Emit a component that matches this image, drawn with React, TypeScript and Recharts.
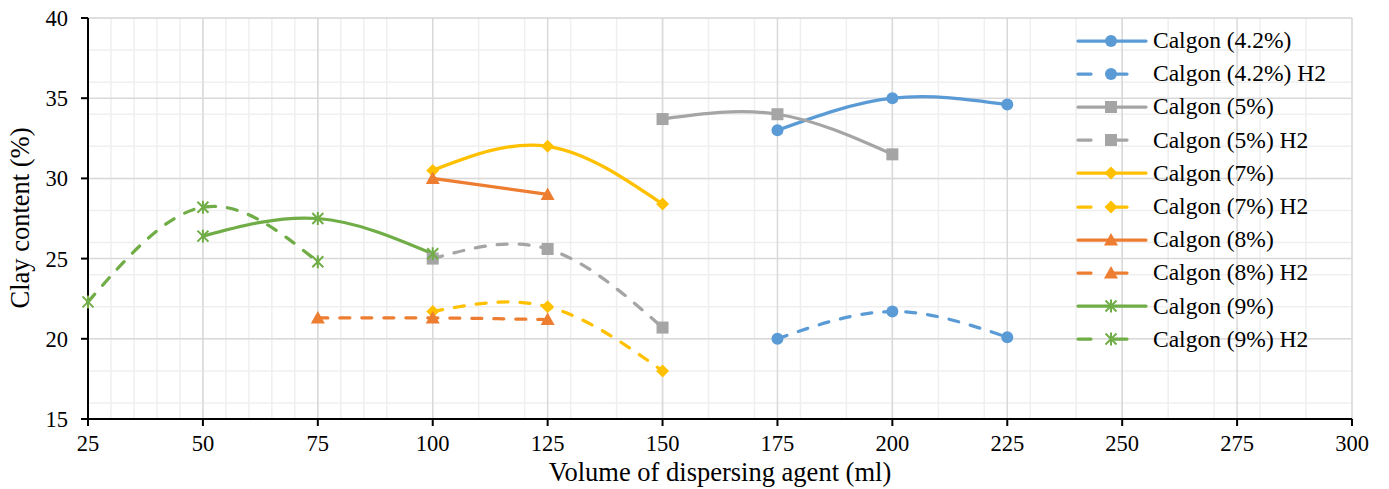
import React from "react";
import { CartesianGrid, Line, LineChart, XAxis, YAxis } from "recharts";

const xTicks = [25, 50, 75, 100, 125, 150, 175, 200, 225, 250, 275, 300];
const yTicks = [15, 20, 25, 30, 35, 40];

const calgon42 = [{ x: 175, y: 33 }, { x: 200, y: 35 }, { x: 225, y: 34.6 }];
const calgon42H2 = [{ x: 175, y: 20 }, { x: 200, y: 21.7 }, { x: 225, y: 20.1 }];
const calgon5 = [{ x: 150, y: 33.7 }, { x: 175, y: 34 }, { x: 200, y: 31.5 }];
const calgon5H2 = [{ x: 100, y: 25 }, { x: 125, y: 25.6 }, { x: 150, y: 20.7 }];
const calgon7 = [{ x: 100, y: 30.5 }, { x: 125, y: 32 }, { x: 150, y: 28.4 }];
const calgon7H2 = [{ x: 100, y: 21.7 }, { x: 125, y: 22 }, { x: 150, y: 18 }];
const calgon8 = [{ x: 100, y: 30 }, { x: 125, y: 29 }];
const calgon8H2 = [{ x: 75, y: 21.3 }, { x: 100, y: 21.3 }, { x: 125, y: 21.2 }];
const calgon9 = [{ x: 50, y: 26.4 }, { x: 75, y: 27.5 }, { x: 100, y: 25.3 }];
const calgon9H2 = [{ x: 25, y: 22.3 }, { x: 50, y: 28.2 }, { x: 75, y: 24.8 }];

type Marker = "circle" | "square" | "diamond" | "triangle" | "asterisk";

const series: { name: string; data: { x: number; y: number }[]; color: string; dashed: boolean; marker: Marker }[] = [
  { name: "Calgon (4.2%)", data: calgon42, color: "#5B9BD5", dashed: false, marker: "circle" },
  { name: "Calgon (4.2%) H2", data: calgon42H2, color: "#5B9BD5", dashed: true, marker: "circle" },
  { name: "Calgon (5%)", data: calgon5, color: "#A5A5A5", dashed: false, marker: "square" },
  { name: "Calgon (5%) H2", data: calgon5H2, color: "#A5A5A5", dashed: true, marker: "square" },
  { name: "Calgon (7%)", data: calgon7, color: "#FFC000", dashed: false, marker: "diamond" },
  { name: "Calgon (7%) H2", data: calgon7H2, color: "#FFC000", dashed: true, marker: "diamond" },
  { name: "Calgon (8%)", data: calgon8, color: "#ED7D31", dashed: false, marker: "triangle" },
  { name: "Calgon (8%) H2", data: calgon8H2, color: "#ED7D31", dashed: true, marker: "triangle" },
  { name: "Calgon (9%)", data: calgon9, color: "#70AD47", dashed: false, marker: "asterisk" },
  { name: "Calgon (9%) H2", data: calgon9H2, color: "#70AD47", dashed: true, marker: "asterisk" },
];

const minorX: number[] = [];
for (let v = 25; v <= 300; v += 5) minorX.push(v);
const minorY: number[] = [];
for (let v = 15; v <= 40; v += 1) minorY.push(v);

const FONT = "serif";

function markerShape(marker: Marker, cx: number, cy: number, color: string, key?: string) {
  switch (marker) {
    case "circle":
      return <circle key={key} cx={cx} cy={cy} r={6} fill={color} stroke="none" />;
    case "square":
      return <rect key={key} x={cx - 6} y={cy - 6} width={12} height={12} fill={color} stroke="none" />;
    case "diamond":
      return <path key={key} d={`M${cx},${cy - 6.5}L${cx + 6.5},${cy}L${cx},${cy + 6.5}L${cx - 6.5},${cy}Z`} fill={color} stroke="none" />;
    case "triangle":
      return <path key={key} d={`M${cx},${cy - 7}L${cx + 7},${cy + 5.5}L${cx - 7},${cy + 5.5}Z`} fill={color} stroke="none" />;
    case "asterisk":
      return (
        <g key={key} stroke={color} strokeWidth={2} fill="none">
          <line x1={cx - 5.5} y1={cy - 5.5} x2={cx + 5.5} y2={cy + 5.5} />
          <line x1={cx - 5.5} y1={cy + 5.5} x2={cx + 5.5} y2={cy - 5.5} />
          <line x1={cx} y1={cy - 6.5} x2={cx} y2={cy + 6.5} />
        </g>
      );
  }
}

const XTick = (p: any) => (
  <text x={p.x} y={p.y + 25} textAnchor="middle" fontSize={22.5} fontFamily={FONT} fill="#000">
    {p.payload.value}
  </text>
);

const YTick = (p: any) => (
  <text x={p.x - 13} y={p.y + 8} textAnchor="end" fontSize={22.5} fontFamily={FONT} fill="#000">
    {p.payload.value}
  </text>
);

export default function App() {
  return (
    <div style={{ position: "absolute", left: 0, top: 0, width: 1389, height: 489, background: "#fff", fontFamily: FONT }}>
      <LineChart width={1389} height={489} margin={{ top: 18, right: 37, bottom: 0, left: 0 }}>
        <CartesianGrid stroke="#EFEFEF" strokeWidth={1.5} verticalValues={minorX} horizontalValues={minorY} />
        <CartesianGrid stroke="#D9D9D9" strokeWidth={1.5} verticalValues={xTicks} horizontalValues={yTicks} />
        <XAxis
          type="number"
          dataKey="x"
          domain={[25, 300]}
          ticks={xTicks}
          allowDuplicatedCategory={false}
          height={70}
          stroke="#000"
          strokeWidth={2}
          tickSize={7}
          tickMargin={0}
          tick={XTick}
        />
        <YAxis
          type="number"
          domain={[15, 40]}
          ticks={yTicks}
          width={88}
          stroke="#000"
          strokeWidth={2}
          tickSize={7}
          tickMargin={0}
          tick={YTick}
        />
        {series.map((s) => (
          <Line
            key={s.name}
            data={s.data}
            dataKey="y"
            name={s.name}
            type="natural"
            stroke={s.color}
            strokeWidth={3.25}
            strokeDasharray={s.dashed ? "10 12" : undefined}
            strokeLinecap="round"
            isAnimationActive={false}
            dot={(p: any) => markerShape(s.marker, p.cx, p.cy, s.color, `${s.name}-${p.index}`)}
            activeDot={false}
          />
        ))}
      </LineChart>

      <div
        style={{
          position: "absolute",
          left: 20,
          top: 218,
          transform: "translate(-50%, -50%) rotate(-90deg)",
          fontSize: 26.5,
          lineHeight: 1,
          whiteSpace: "nowrap",
          color: "#000",
        }}
      >
        Clay content (%)
      </div>
      <div
        style={{
          position: "absolute",
          left: 720,
          top: 472,
          transform: "translate(-50%, -50%)",
          fontSize: 26.5,
          lineHeight: 1,
          whiteSpace: "nowrap",
          color: "#000",
        }}
      >
        Volume of dispersing agent (ml)
      </div>

      <div style={{ position: "absolute", left: 1076, top: 24 }}>
        {series.map((s) => (
          <div key={s.name} style={{ display: "flex", alignItems: "center", height: 33.2 }}>
            <svg width={72} height={20} style={{ marginRight: 5, flexShrink: 0 }}>
              <line
                x1={2}
                y1={10}
                x2={70}
                y2={10}
                stroke={s.color}
                strokeWidth={3.25}
                strokeDasharray={s.dashed ? "13 23" : undefined}
                strokeLinecap="round"
              />
              {markerShape(s.marker, 35, 10, s.color)}
            </svg>
            <span style={{ fontSize: 23.5, color: "#000", whiteSpace: "nowrap" }}>{s.name}</span>
          </div>
        ))}
      </div>
    </div>
  );
}
